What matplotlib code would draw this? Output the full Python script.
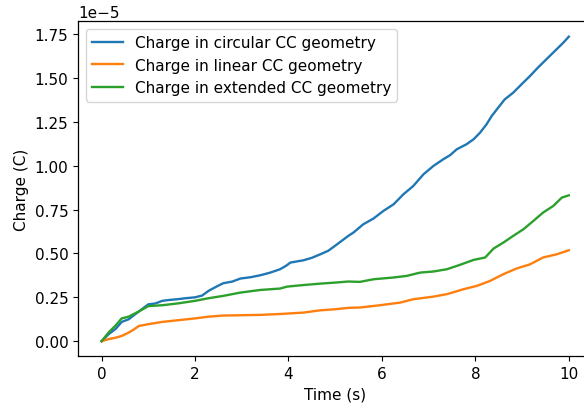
import numpy as np
import matplotlib
matplotlib.use("Agg")
import matplotlib.pyplot as plt

plt.rcParams["font.size"] = 11
plt.rcParams["lines.linewidth"] = 1.7
plt.rcParams["axes.linewidth"] = 0.9

# Charge accumulated over time for three current-collector layouts (units of 1e-5 C)
t_circ = [0.0, 0.15, 0.3, 0.43, 0.58, 0.7, 0.8, 0.9, 1.0, 1.15, 1.3, 1.45, 1.65, 1.8, 2.0,
          2.15, 2.29, 2.45, 2.6, 2.8, 2.97, 3.2, 3.4, 3.6, 3.82, 3.95, 4.04, 4.32, 4.5,
          4.68, 4.85, 5.04, 5.28, 5.39, 5.6, 5.82, 6.03, 6.25, 6.46, 6.67, 6.89, 7.1,
          7.31, 7.46, 7.6, 7.81, 7.96, 8.1, 8.24, 8.35, 8.49, 8.63, 8.81, 8.99, 9.17,
          9.34, 9.52, 9.7, 9.88, 10.0]
q_circ = [0.0, 0.04, 0.07, 0.11, 0.125, 0.15, 0.17, 0.19, 0.21, 0.215, 0.23, 0.235, 0.24,
          0.245, 0.25, 0.26, 0.287, 0.31, 0.33, 0.34, 0.357, 0.365, 0.376, 0.39, 0.41,
          0.43, 0.448, 0.461, 0.475, 0.495, 0.515, 0.552, 0.60, 0.619, 0.666, 0.699,
          0.742, 0.78, 0.837, 0.884, 0.951, 0.998, 1.036, 1.06, 1.093, 1.122, 1.15,
          1.188, 1.236, 1.283, 1.331, 1.378, 1.416, 1.464, 1.511, 1.559, 1.606, 1.653,
          1.70, 1.735]

t_lin = [0.0, 0.15, 0.3, 0.43, 0.55, 0.65, 0.8, 1.0, 1.3, 1.65, 2.0, 2.3, 2.6, 2.97, 3.4,
         3.82, 4.32, 4.68, 5.0, 5.28, 5.53, 5.96, 6.39, 6.67, 7.1, 7.39, 7.67, 7.74,
         8.03, 8.31, 8.6, 8.88, 9.17, 9.45, 9.74, 10.0]
q_lin = [0.0, 0.012, 0.02, 0.03, 0.045, 0.06, 0.087, 0.097, 0.11, 0.12, 0.13, 0.14, 0.146,
         0.148, 0.15, 0.155, 0.163, 0.176, 0.182, 0.19, 0.192, 0.205, 0.22, 0.239, 0.254,
         0.268, 0.29, 0.296, 0.315, 0.343, 0.382, 0.414, 0.438, 0.477, 0.495, 0.518]

t_ext = [0.0, 0.15, 0.3, 0.43, 0.58, 0.8, 1.0, 1.3, 1.65, 2.0, 2.29, 2.6, 2.97, 3.4, 3.82,
         3.97, 4.32, 4.68, 5.0, 5.28, 5.53, 5.82, 6.25, 6.53, 6.82, 7.1, 7.39, 7.67,
         7.96, 8.21, 8.39, 8.6, 8.81, 9.03, 9.24, 9.45, 9.67, 9.85, 10.0]
q_ext = [0.0, 0.05, 0.09, 0.13, 0.14, 0.17, 0.20, 0.205, 0.216, 0.23, 0.245, 0.258, 0.277,
         0.292, 0.30, 0.311, 0.32, 0.328, 0.334, 0.34, 0.338, 0.353, 0.363, 0.372, 0.391,
         0.397, 0.41, 0.435, 0.463, 0.477, 0.528, 0.562, 0.60, 0.638, 0.685, 0.733,
         0.771, 0.818, 0.831]

fig = plt.figure(figsize=(5.84, 4.06), dpi=100)
ax = fig.add_axes([0.134, 0.1195, 0.880, 0.8254])

ax.plot(t_circ, np.array(q_circ) * 1e-5, label="Charge in circular CC geometry")
ax.plot(t_lin, np.array(q_lin) * 1e-5, label="Charge in linear CC geometry")
ax.plot(t_ext, np.array(q_ext) * 1e-5, label="Charge in extended CC geometry")

ax.set_xlim(-0.5, 10.5)
ax.set_ylim(-0.087e-5, 1.822e-5)
ax.set_xlabel("Time (s)")
ax.set_ylabel("Charge (C)")
ax.legend(loc="upper left")

fig.savefig("out.png", dpi=100)
